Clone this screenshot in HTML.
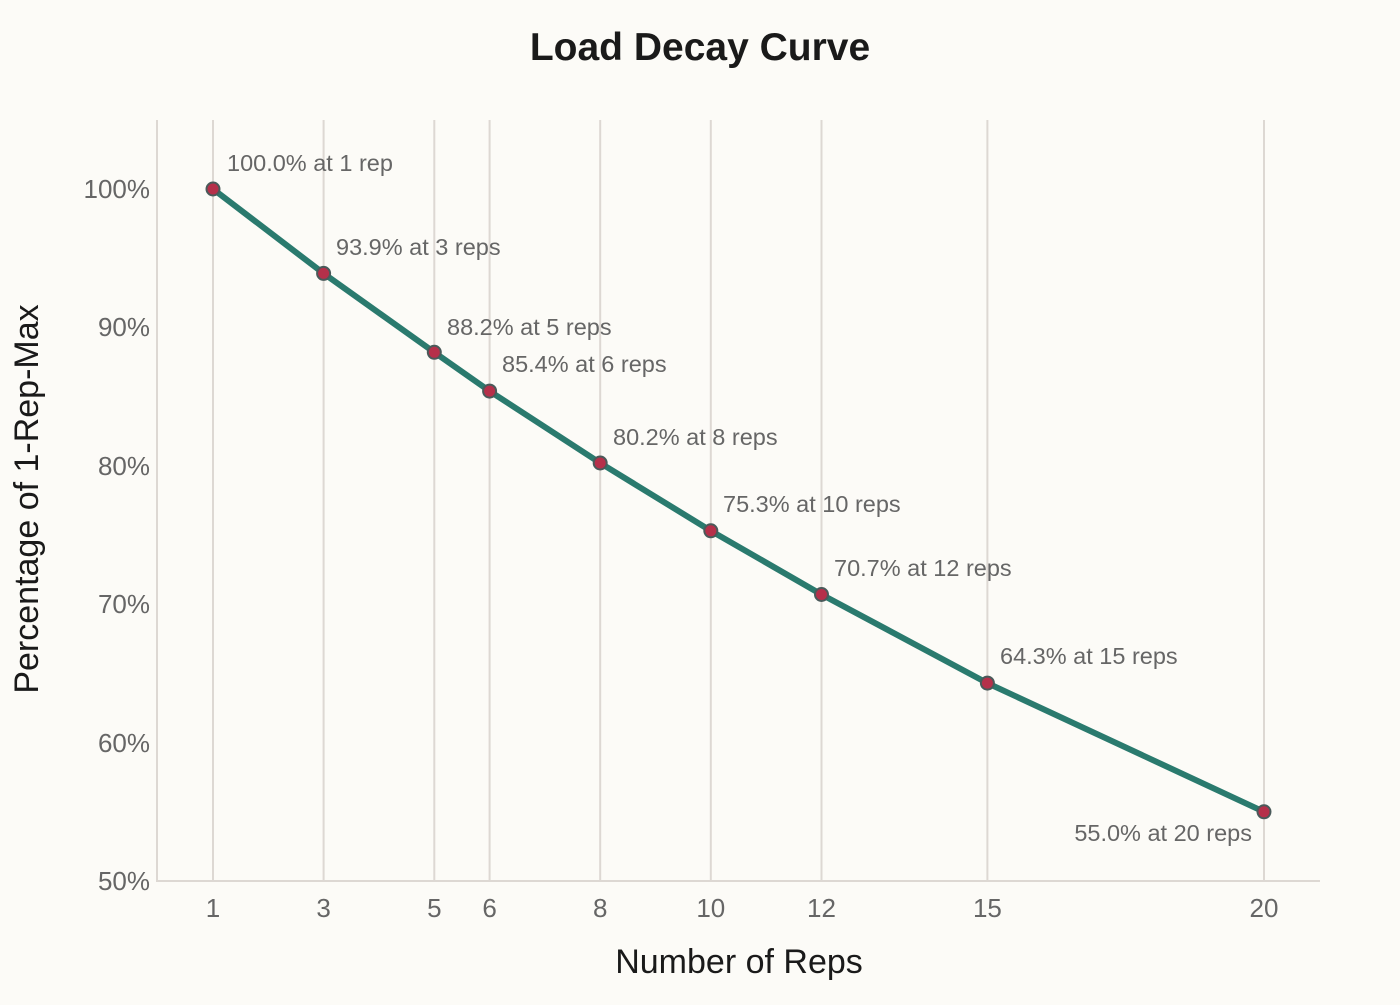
<!DOCTYPE html>
<html><head><meta charset="utf-8"><style>body{margin:0;background:#fcfbf7}</style></head><body>
<svg width="1400" height="1000" xmlns="http://www.w3.org/2000/svg" font-family="Liberation Sans, Arial, sans-serif">
<rect width="1400" height="1000" fill="#fcfbf7"/>
<text x="700" y="60" text-anchor="middle" font-size="39" font-weight="bold" fill="#1a1a1a">Load Decay Curve</text>
<g stroke="#ddd8d3" stroke-width="2">
<line x1="213" y1="120" x2="213" y2="881"/><line x1="323.6" y1="120" x2="323.6" y2="881"/>
<line x1="434.3" y1="120" x2="434.3" y2="881"/><line x1="489.6" y1="120" x2="489.6" y2="881"/>
<line x1="600.2" y1="120" x2="600.2" y2="881"/><line x1="710.8" y1="120" x2="710.8" y2="881"/>
<line x1="821.5" y1="120" x2="821.5" y2="881"/><line x1="987.4" y1="120" x2="987.4" y2="881"/>
<line x1="1264" y1="120" x2="1264" y2="881"/>
<line x1="157" y1="120" x2="157" y2="882"/><line x1="156" y1="881" x2="1320" y2="881"/>
</g>
<g font-size="26" fill="#666" text-anchor="end">
<text x="150" y="198">100%</text><text x="150" y="336">90%</text><text x="150" y="475">80%</text>
<text x="150" y="613">70%</text><text x="150" y="752">60%</text><text x="150" y="890">50%</text>
</g>
<g font-size="26" fill="#666" text-anchor="middle">
<text x="213" y="917">1</text><text x="323.6" y="917">3</text><text x="434.3" y="917">5</text><text x="489.6" y="917">6</text>
<text x="600.2" y="917">8</text><text x="710.8" y="917">10</text><text x="821.5" y="917">12</text><text x="987.4" y="917">15</text><text x="1264" y="917">20</text>
</g>
<text x="739" y="973" text-anchor="middle" font-size="34" fill="#1a1a1a">Number of Reps</text>
<text transform="translate(38,499) rotate(-90)" text-anchor="middle" font-size="34" fill="#1a1a1a">Percentage of 1-Rep-Max</text>
<polyline fill="none" stroke="#2a7a6e" stroke-width="6" stroke-linejoin="round" stroke-linecap="round"
points="213,189 323.6,273.4 434.3,352.3 489.6,391.1 600.2,463 710.8,530.8 821.5,594.5 987.4,683.1 1264,811.8"/>
<g fill="#b5304a" stroke="#4a5a5a" stroke-width="2">
<circle cx="213" cy="189" r="6.5"/><circle cx="323.6" cy="273.4" r="6.5"/><circle cx="434.3" cy="352.3" r="6.5"/>
<circle cx="489.6" cy="391.1" r="6.5"/><circle cx="600.2" cy="463" r="6.5"/><circle cx="710.8" cy="530.8" r="6.5"/>
<circle cx="821.5" cy="594.5" r="6.5"/><circle cx="987.4" cy="683.1" r="6.5"/><circle cx="1264" cy="811.8" r="6.5"/>
</g>
<g font-size="23.5" fill="#666">
<text x="227" y="171">100.0% at 1 rep</text>
<text x="336" y="255">93.9% at 3 reps</text>
<text x="447" y="335">88.2% at 5 reps</text>
<text x="502" y="372">85.4% at 6 reps</text>
<text x="613" y="445">80.2% at 8 reps</text>
<text x="723" y="512">75.3% at 10 reps</text>
<text x="834" y="576">70.7% at 12 reps</text>
<text x="1000" y="664">64.3% at 15 reps</text>
<text x="1252" y="841" text-anchor="end">55.0% at 20 reps</text>
</g>
</svg>
</body></html>
